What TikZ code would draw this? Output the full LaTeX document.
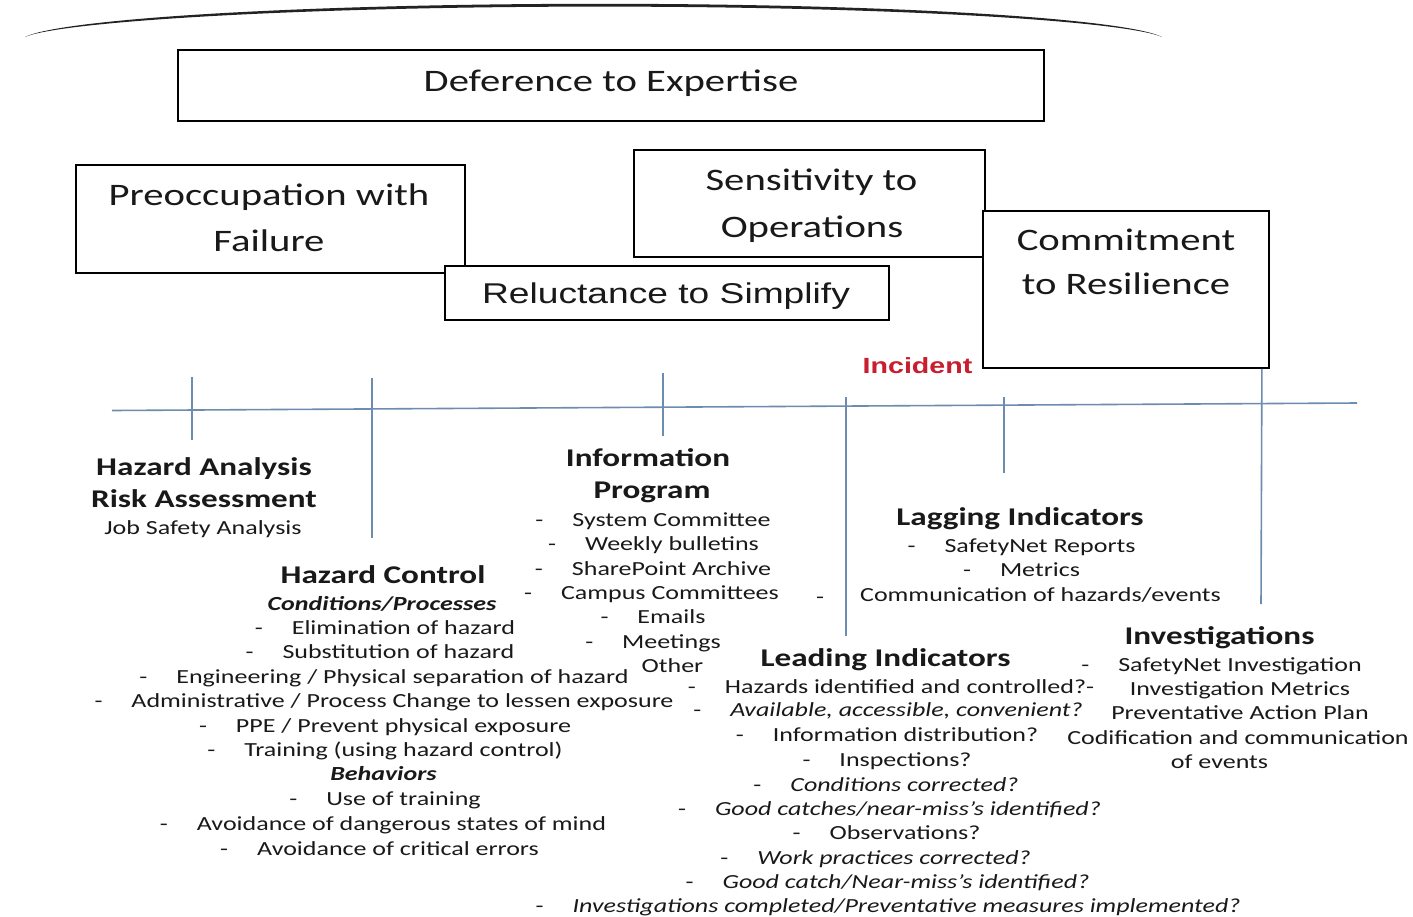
\documentclass[tikz,border=0pt]{standalone}
\usepackage{fontspec}
\setmainfont{Carlito}[FakeStretch=1.3]
\newfontfamily\arialfont{Liberation Sans}[FakeStretch=1.3]
\definecolor{tlblue}{RGB}{110,140,175}
\definecolor{txt}{RGB}{25,25,25}
\definecolor{incred}{RGB}{200,30,45}
\definecolor{arcgray}{RGB}{35,35,35}
\newcommand\lidash{-\hspace{29pt}}
\begin{document}
\begin{tikzpicture}[x=1pt,y=-1pt,
  box/.style={draw=black, line width=1.8pt, fill=white, inner sep=0pt, rectangle},
  boxtxt/.style={font=\fontsize{31.3}{37}\selectfont, text=txt, anchor=mid, inner sep=0pt},
  reltxt/.style={font=\arialfont\fontsize{28.6}{34}\selectfont, text=txt, anchor=mid, inner sep=0pt},
  inctxt/.style={font=\arialfont\bfseries\fontsize{22}{26}\selectfont, text=incred, anchor=mid, inner sep=0pt},
  tl/.style={draw=tlblue, line width=1.6pt},
  body/.style={font=\fontsize{20}{24}\selectfont, text=txt, anchor=mid, inner sep=0pt},
  itl/.style={font=\fontsize{20}{24}\selectfont\itshape, text=txt, anchor=mid, inner sep=0pt},
  bitl/.style={font=\fontsize{20}{24}\selectfont\bfseries\itshape, text=txt, anchor=mid, inner sep=0pt},
  head/.style={font=\fontsize{25.5}{30}\selectfont\bfseries, text=txt, anchor=mid, inner sep=0pt}]
\useasboundingbox[fill=white] (0,0) rectangle (1413,916);

% top arc
\fill[arcgray] (25,37) .. controls (60,19) and (300,3.8) .. (600,3.8)
   .. controls (900,3.8) and (1127,19) .. (1162,37)
   .. controls (1127,21.5) and (900,6.6) .. (600,6.6)
   .. controls (300,6.6) and (60,21.5) .. (25,37) -- cycle;

% boxes
\node[box, minimum width=866pt, minimum height=71pt] (defbox) at (611,85.5) {};
\node[box, minimum width=389pt, minimum height=108pt] (preobox) at (270.5,219) {};
\node[box, minimum width=444pt, minimum height=54pt] (relbox) at (667,293) {};
\node[box, minimum width=351pt, minimum height=107pt] (sensbox) at (809.5,203.5) {};
\node[box, minimum width=286pt, minimum height=157pt] (combox) at (1126,289.5) {};

% timeline
\coordinate (tlL) at (112,410.5);
\coordinate (tlR) at (1357,403);
\draw[tl] (tlL) -- (tlR);
\coordinate (t1a) at (192,377);  \coordinate (t1b) at (192,440);
\coordinate (t2a) at (372,378);  \coordinate (t2b) at (372,538);
\coordinate (t3a) at (663,373);  \coordinate (t3b) at (663,436);
\coordinate (t4a) at (846,397);  \coordinate (t4b) at (846,636);
\coordinate (t5a) at (1004,397); \coordinate (t5b) at (1004,473);
\coordinate (t6a) at ([xshift=-8pt]combox.south east); \coordinate (t6b) at (1261,604);
\draw[tl] (t1a) -- (t1b);
\draw[tl] (t2a) -- (t2b);
\draw[tl] (t3a) -- (t3b);
\draw[tl] (t4a) -- (t4b);
\draw[tl] (t5a) -- (t5b);
\draw[tl] (t6a) -- (t6b);

\begin{scope}[yshift=-5pt]
\node[boxtxt] (deftxt) at (611,84) {Deference to Expertise};
\node[boxtxt] (preotxt1) at (269,198) {Preoccupation with};
\node[boxtxt] (preotxt2) at (269,244) {Failure};
\node[reltxt] (reltxt) at (666,296) {Reluctance to Simplify};
\node[boxtxt] (senstxt1) at (811.5,183) {Sensitivity to};
\node[boxtxt] (senstxt2) at (812,230) {Operations};
\node[boxtxt] (comtxt1) at (1126,243) {Commitment};
\node[boxtxt] (comtxt2) at (1126,287) {to Resilience};
\node[inctxt] (incident) at (917.5,366) {Incident};

% Hazard analysis
\node[head] (ha1) at (204,468) {Hazard Analysis};
\node[head] (ha2) at (204,500) {Risk Assessment};
\node[body] (ha3) at (203,527) {Job Safety Analysis};

% Hazard control
\node[head] (hc) at (383,576) {Hazard Control};
\node[bitl] (hc0) at (382,603) {Conditions/Processes};
\node[body] (hc1) at (385,627) {\lidash Elimination of hazard};
\node[body] (hc2) at (380,651) {\lidash Substitution of hazard};
\node[body] (hc3) at (384,676) {\lidash Engineering / Physical separation of hazard};
\node[body] (hc4) at (384,700) {\lidash Administrative / Process Change to lessen exposure};
\node[body] (hc5) at (385,725) {\lidash PPE / Prevent physical exposure};
\node[body] (hc6) at (385,749) {\lidash Training (using hazard control)};
\node[bitl] (hc7) at (383.5,773) {Behaviors};
\node[body] (hc8) at (385,798) {\lidash Use of training};
\node[body] (hc9) at (383,823) {\lidash Avoidance of dangerous states of mind};
\node[body] (hc10) at (379.5,848) {\lidash Avoidance of critical errors};

% Information program
\node[head] (ip1) at (648,459) {Information};
\node[head] (ip2) at (652,491) {Program};
\node[body] (ip3) at (653,519) {\lidash System Committee};
\node[body] (ip4) at (653.5,543) {\lidash Weekly bulletins};
\node[body] (ip5) at (653,568) {\lidash SharePoint Archive};
\node[body] (ip6) at (651.5,592) {\lidash Campus Committees};
\node[body] (ip7) at (653,616) {\lidash Emails};
\node[body] (ip8) at (653,641) {\lidash Meetings};
\node[body] (ip9) at (672.5,665) {Other};

% Lagging indicators
\node[head] (lag) at (1020,518) {Lagging Indicators};
\node[body] (lag1) at (1021.5,545) {\lidash SafetyNet Reports};
\node[body] (lag2) at (1021.5,569) {\lidash Metrics};
\node[body] (lagd) at (820,596) {-};
\node[body] (lag3) at (1040.5,594) {Communication of hazards/events};

% Leading indicators
\node[head] (lead) at (885.5,659) {Leading Indicators};
\node[body] (lead1) at (891,686) {\lidash Hazards identified and controlled?-};
\node[body] (lead2) at (888,709) {\lidash\textit{Available, accessible, convenient?}};
\node[body] (lead3) at (887,734) {\lidash Information distribution?};
\node[body] (lead4) at (887,759) {\lidash Inspections?};
\node[body] (lead5) at (886,784) {\lidash\textit{Conditions corrected?}};
\node[body] (lead6) at (889.5,808) {\lidash\textit{Good catches/near-miss’s identified?}};
\node[body] (lead7) at (886.5,832) {\lidash Observations?};
\node[body] (lead8) at (875.5,857) {\lidash\textit{Work practices corrected?}};
\node[body] (lead9) at (887.5,881) {\lidash\textit{Good catch/Near-miss’s identified?}};
\node[body] (lead10) at (888,905) {\lidash\textit{Investigations completed/Preventative measures implemented?}};

% Investigations
\node[head] (inv) at (1219.5,637) {Investigations};
\node[body] (inv1) at (1221.5,664) {\lidash SafetyNet Investigation};
\node[body] (inv2) at (1240,688) {Investigation Metrics};
\node[body] (inv3) at (1240,712) {Preventative Action Plan};
\node[body] (inv4) at (1238,737) {Codification and communication};
\node[body] (inv5) at (1219.5,761) {of events};
\end{scope}
\end{tikzpicture}
\end{document}
